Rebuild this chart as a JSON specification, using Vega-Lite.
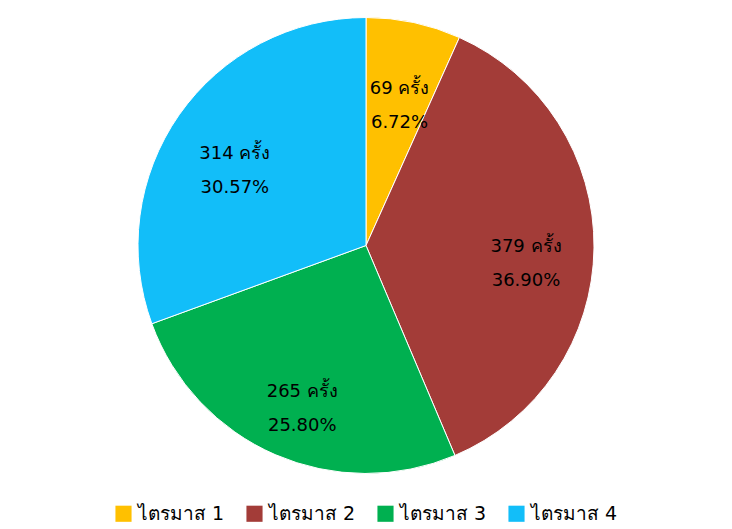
{
  "$schema": "https://vega.github.io/schema/vega-lite/v6.json",
  "width": 732,
  "height": 529,
  "autosize": {"type": "fit", "contains": "padding"},
  "background": "white",
  "data": {
    "values": [
      {"q": "ไตรมาส 1", "count": 69, "pct": "6.72%"},
      {"q": "ไตรมาส 2", "count": 379, "pct": "36.90%"},
      {"q": "ไตรมาส 3", "count": 265, "pct": "25.80%"},
      {"q": "ไตรมาส 4", "count": 314, "pct": "30.57%"}
    ]
  },
  "transform": [
    {"calculate": "[datum.count + ' ครั้ง', datum.pct]", "as": "label"}
  ],
  "encoding": {
    "theta": {"field": "count", "type": "quantitative", "stack": true},
    "order": {"field": "q", "type": "nominal", "sort": "ascending"}
  },
  "layer": [
    {
      "mark": {"type": "arc", "outerRadius": 228, "stroke": "white", "strokeWidth": 1},
      "encoding": {
        "color": {
          "field": "q",
          "type": "nominal",
          "scale": {
            "domain": ["ไตรมาส 1", "ไตรมาส 2", "ไตรมาส 3", "ไตรมาส 4"],
            "range": ["#FFC000", "#A33C38", "#00B050", "#12BEF9"]
          },
          "legend": {
            "orient": "bottom",
            "direction": "horizontal",
            "title": null,
            "symbolType": "square",
            "symbolSize": 260,
            "symbolStrokeWidth": 0,
            "labelFontSize": 19,
            "labelFont": "DejaVu Sans",
            "labelColor": "#000000",
            "columnPadding": 20,
            "labelOffset": 5
          }
        }
      }
    },
    {
      "mark": {"type": "text", "radius": 160, "fontSize": 18, "font": "DejaVu Sans", "color": "#000000", "lineHeight": 34, "align": "center", "baseline": "middle"},
      "encoding": {
        "text": {"field": "label"}
      }
    }
  ],
  "config": {
    "view": {"stroke": null},
    "legend": {"layout": {"bottom": {"anchor": "middle"}}}
  }
}
